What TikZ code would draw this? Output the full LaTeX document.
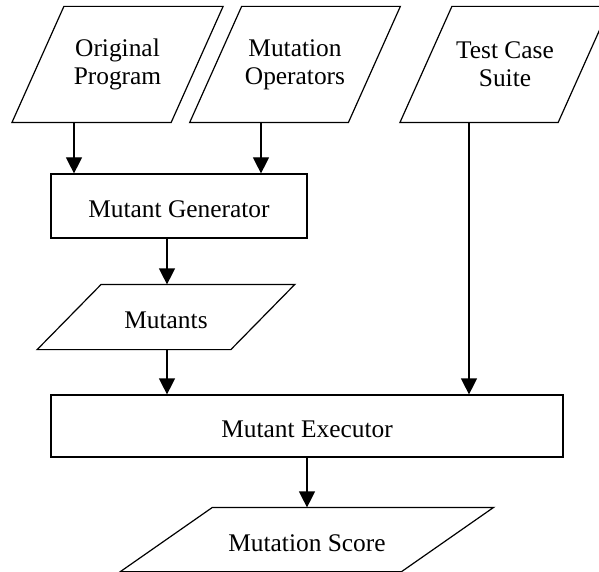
\documentclass[tikz,border=0pt]{standalone}
\usepackage{fontspec}
\setmainfont{Liberation Serif}
\usetikzlibrary{arrows.meta}

\begin{document}
\begin{tikzpicture}[x=0.5pt,y=-0.5pt,line width=0.6pt,
  font=\fontsize{12.7}{14}\selectfont,
  io/.style={rectangle,inner sep=0pt,align=center},
  proc/.style={draw,rectangle,inner sep=1pt,text height=12pt},
  arr/.style={-{Triangle[length=8pt,width=8pt]}}]
\useasboundingbox (0,0) rectangle (599,572);
\node[io,minimum width=79pt,minimum height=57.5pt] (orig) at (117.5,64.5) {Original\\Program};
\node[io,minimum width=78.75pt,minimum height=57.5pt] (ops) at (295,64.5) {Mutation\\Operators};
\node[io,minimum width=78.5pt,minimum height=57.5pt] (suite) at (505,64.5) {Test Case\\Suite};
\node[proc,minimum width=128pt,minimum height=32pt] (gen) at (179,206) {Mutant Generator};
\node[io,text height=12pt,minimum width=96.25pt,minimum height=32pt] (mut) at (166,317) {Mutants};
\node[proc,minimum width=256pt,minimum height=31pt] (exec) at (307,426) {Mutant Executor};
\node[io,text height=12pt,minimum width=140pt,minimum height=31.5pt] (score) at (307,539.5) {Mutation Score};
\foreach \n/\d in {orig/13pt,ops/13pt,suite/13pt,mut/16pt,score/23pt}
  \draw ([xshift=\d]\n.north west) -- ([xshift=\d]\n.north east)
    -- ([xshift=-\d]\n.south east) -- ([xshift=-\d]\n.south west) -- cycle;
\draw[arr] (orig.south -| 74,0) -- (gen.north -| 74,0);
\draw[arr] (ops.south -| 261,0) -- (gen.north -| 261,0);
\draw[arr] (gen.south -| 167,0) -- (mut.north -| 167,0);
\draw[arr] (mut.south -| 167,0) -- (exec.north -| 167,0);
\draw[arr] (suite.south -| 469,0) -- (exec.north -| 469,0);
\draw[arr] (exec) -- (score);
\end{tikzpicture}
\end{document}
